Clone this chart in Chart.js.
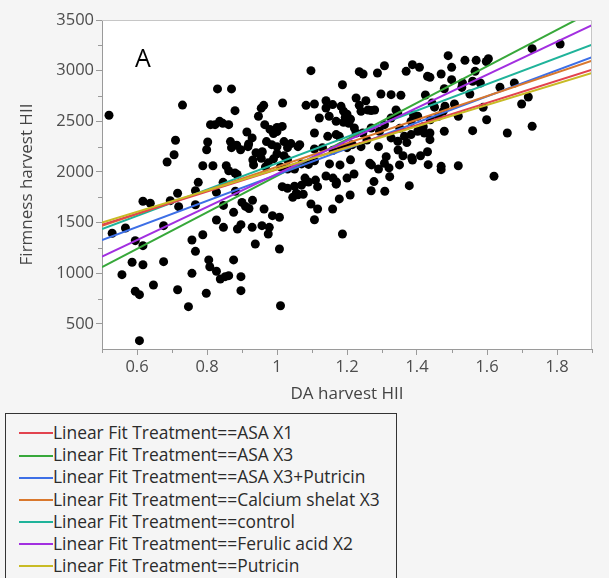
<!DOCTYPE html>
<html>
<head>
<meta charset="utf-8">
<script src="https://cdn.jsdelivr.net/npm/chart.js@4.4.0/dist/chart.umd.min.js"></script>
<style>
  body { margin: 0; background: #f5f5f5; width: 609px; height: 578px; overflow: hidden; position: relative; font-family: "Open Sans", "Noto Sans", sans-serif; }
  #wrap { position: absolute; left: 0; top: 0; width: 609px; height: 410px; }
  #panel { position: absolute; left: 135px; top: 40px; font-size: 25px; color: #000; }
  #legend { position: absolute; left: 5px; top: 413px; width: 392px; height: 180px; border: 1px solid #333; box-sizing: border-box; padding-top: 7px; }
  .row { height: 22.2px; line-height: 22.2px; font-size: 17.4px; color: #2b2b2b; white-space: nowrap; }
  .sw { display: inline-block; width: 34px; height: 2px; margin-left: 13px; vertical-align: middle; position: relative; top: -1px; }
</style>
</head>
<body>
<div id="wrap"><canvas id="chart" width="609" height="410"></canvas></div>
<div id="panel">A</div>
<div id="legend"></div>
<script>
// DA harvest HII (x) and Firmness harvest HII (y)
const daHarvest = [
  0.52,0.73,0.83,0.87,0.88,0.81,0.836,0.862,0.823,0.845,0.71,0.706,0.686,0.802,0.799,0.867,0.87,0.885,0.914,0.919,
  0.929,0.947,0.962,0.965,0.788,0.817,0.855,0.862,0.88,0.886,0.931,0.933,0.955,0.967,0.775,0.846,0.896,0.917,0.955,0.958,
  0.94,0.97,
  0.529,0.567,0.557,0.617,0.638,0.595,0.617,0.586,0.617,0.595,0.607,0.607,0.647,0.676,0.676,0.695,0.716,0.719,0.716,0.747,
  0.757,0.767,0.757,0.767,0.767,0.788,0.798,0.805,0.808,0.827,0.827,0.838,0.852,0.862,0.827,0.847,0.847,0.876,0.876,0.881,
  0.887,0.897,0.897,0.897,0.9,0.91,0.92,0.93,0.938,0.957,0.929,0.963,
  1.01,1.007,0.975,0.978,0.987,1.007,1.015,1.03,1.05,1.07,1.055,1.045,1.06,1.075,1.097,1.116,1.107,1.116,1.159,1.178,
  1.187,1.209,1.269,1.308,1.378,1.169,
  1.729,1.809,1.489,1.499,1.537,1.569,1.604,1.598,1.469,1.437,1.566,1.499,1.53,1.559,1.581,1.478,1.528,1.551,1.637,1.678,
  1.718,1.699,1.443,1.475,1.45,1.48,1.507,1.518,1.589,1.599,1.438,1.461,1.437,1.437,1.478,1.559,1.658,1.729,1.432,1.469,
  1.469,1.518,1.62,
  1.097,1.235,1.246,1.187,1.287,1.307,1.369,1.387,1.407,1.43,1.297,1.326,1.354,1.016,1.083,1.107,1.14,1.159,1.183,1.226,
  1.254,1.235,1.24,1.269,1.14,1.19,1.2,1.195,1.21,1.19,1.205,1.121,1.149,1.169,1.107,1.145,1.169,1.178,1.221,1.226,
  1.245,1.269,1.293,1.307,1.326,1.345,1.364,1.383,1.402,1.421,1.383,1.402,1.326,1.345,
  0.98,0.99,1.0,1.02,0.985,1.0,1.03,1.04,1.06,1.065,1.0,1.02,0.99,1.03,0.975,1.01,1.03,1.05,1.0,1.015,
  1.107,1.13,1.16,1.183,1.2,1.215,1.24,1.07,1.09,1.107,1.15,1.18,1.21,1.27,1.29,1.32,1.35,1.36,1.385,1.41,
  1.43,1.14,1.16,1.17,1.2,1.22,1.08,1.09,1.11,
  1.257,1.29,1.312,1.322,1.371,1.387,1.265,1.277,1.307,1.346,1.351,1.418,1.39,1.424,1.34,1.279,1.26
];
const firmness = [
  2560,2660,2820,2820,2605,2467,2500,2467,2467,2480,2313,2170,2099,2296,2220,2300,2240,2265,2395,2276,
  2336,2550,2658,2467,2062,2062,2062,2012,1990,1975,2118,2070,2135,2050,1898,1898,2220,2250,2630,2200,
  2190,2300,
  1395,1447,987,1711,1691,1322,1273,1109,1085,823,789,335,885,1115,1470,1717,1790,1658,838,671,
  1000,1217,1329,1677,1815,1381,803,1132,1065,1526,1020,944,967,977,1800,1454,1670,1602,1132,1810,
  1437,1480,967,829,1700,1660,1640,1720,1289,1470,1454,1635,
  680,1240,1388,1454,1569,1553,1855,1840,1860,1870,1790,1750,1775,1780,1684,1635,1529,1855,1635,1734,
  1388,1773,1815,1810,1865,1880,
  3217,3263,3148,3033,3102,3102,3118,3090,2967,2934,2993,2911,2878,2895,2878,2822,2835,2770,2836,2878,
  2740,2671,2680,2600,2640,2650,2671,2550,2638,2516,2516,2550,2385,2319,2402,2408,2385,2451,2072,2056,
  2023,2062,1958,
  3000,2990,2967,2861,2977,3049,2993,3059,3033,2944,2770,2763,2757,2681,2658,2671,2703,2665,2648,2730,
  2703,2658,2599,2606,2632,2600,2570,2540,2520,2490,2480,2533,2550,2500,2385,2352,2369,2352,2434,2385,
  2385,2434,2402,2467,2533,2582,2352,2369,2402,2385,2500,2550,2336,2303,
  2420,2380,2400,2300,2270,2250,2240,2280,2250,2270,2180,2160,2130,2120,2090,2050,2030,2030,2440,2450,
  2227,2240,2215,2250,2240,2270,2250,2080,2075,2110,2080,2070,2120,2070,2030,2040,2070,2160,2140,2160,
  2200,1960,1940,1900,1940,1980,1940,1900,1920,
  2316,2250,2151,1954,2290,2118,2086,1905,2086,2217,2431,2447,2563,2760,2612,2612,2612
];

// linear fits: value of the fit at the left (x = 0.5) and right (x = 1.9) edge
const fitNames = ["ASA X1", "ASA X3", "ASA X3+Putricin", "Calcium shelat X3", "control", "Ferulic acid X2", "Putricin"];
const fitColors = ["#e2434f", "#37a83a", "#3d6fe6", "#d9782d", "#1fb39a", "#a22fe0", "#c8bb25"];
const fitX = [0.5, 1.9];
const fitStart = [1480, 1060, 1329, 1470, 1437, 1164, 1500];
const fitEnd = [3010, 3583, 3132, 3098, 3256, 3448, 2977];
const fitOrder = [2, 6, 4, 3, 5, 1, 0];

const xTicks = [0.6, 0.8, 1, 1.2, 1.4, 1.6, 1.8];
const yTicks = [500, 1000, 1500, 2000, 2500, 3000, 3500];
const xMinor = [0.5, 0.7, 0.9, 1.1, 1.3, 1.5, 1.7, 1.9];
const yMinor = [750, 1250, 1750, 2250, 2750, 3250];

const frame = {
  id: "frame",
  beforeDraw(chart) {
    const { ctx, chartArea: a } = chart;
    ctx.save();
    ctx.fillStyle = "#fff";
    ctx.fillRect(a.left, a.top, a.right - a.left, a.bottom - a.top);
    ctx.restore();
  },
  afterDraw(chart) {
    const { ctx, chartArea: a, scales: { x, y } } = chart;
    ctx.save();
    ctx.lineWidth = 1;
    ctx.strokeStyle = "#c6c6c6";
    ctx.beginPath();
    ctx.moveTo(a.left, a.top + 0.5);
    ctx.lineTo(a.right - 0.5, a.top + 0.5);
    ctx.lineTo(a.right - 0.5, a.bottom);
    ctx.stroke();
    ctx.strokeStyle = "#9a9a9a";
    ctx.beginPath();
    xMinor.forEach(v => {
      const px = Math.round(x.getPixelForValue(v)) + 0.5;
      ctx.moveTo(px, a.bottom);
      ctx.lineTo(px, a.bottom + 4);
    });
    yMinor.forEach(v => {
      const py = Math.round(y.getPixelForValue(v)) + 0.5;
      ctx.moveTo(a.left - 4, py);
      ctx.lineTo(a.left, py);
    });
    ctx.stroke();
    ctx.restore();
  }
};

const points = daHarvest.map((v, i) => ({ x: v, y: firmness[i] }));

const fitSets = fitNames.map((name, i) => ({
  label: "Linear Fit Treatment==" + name,
  data: fitX.map((v, k) => ({ x: v, y: k === 0 ? fitStart[i] : fitEnd[i] })),
  showLine: true,
  borderColor: fitColors[i],
  backgroundColor: fitColors[i],
  borderWidth: 2,
  pointRadius: 0,
  order: fitOrder[i]
}));

const tickFont = { family: "'Open Sans', sans-serif", size: 16.5 };
const titleFont = { family: "'Open Sans', sans-serif", size: 17 };

new Chart(document.getElementById("chart"), {
  type: "scatter",
  data: {
    datasets: [
      ...fitSets,
      {
        label: "points",
        data: points,
        backgroundColor: "#000",
        borderWidth: 0,
        pointRadius: 4.5,
        order: 10
      }
    ]
  },
  options: {
    responsive: false,
    devicePixelRatio: 1,
    animation: false,
    layout: { padding: { top: 20, right: 17, left: 0, bottom: 0 } },
    plugins: { legend: { display: false }, tooltip: { enabled: false } },
    scales: {
      x: {
        type: "linear",
        min: 0.5,
        max: 1.9,
        afterBuildTicks: s => { s.ticks = xTicks.map(v => ({ value: v })); },
        afterFit: s => { s.height = 61; },
        grid: { drawOnChartArea: false, tickLength: 6, tickColor: "#9a9a9a" },
        border: { color: "#9a9a9a" },
        ticks: { color: "#4d4d4d", font: tickFont, padding: 2, maxRotation: 0, callback: v => String(Math.round(v * 10) / 10) },
        title: { display: true, text: "DA harvest HII", color: "#444", font: titleFont, padding: { bottom: 6 } }
      },
      y: {
        type: "linear",
        min: 253,
        max: 3500,
        afterBuildTicks: s => { s.ticks = yTicks.map(v => ({ value: v })); },
        afterFit: s => { s.width = 102; },
        grid: { drawOnChartArea: false, tickLength: 6, tickColor: "#9a9a9a" },
        border: { color: "#9a9a9a" },
        ticks: { color: "#4d4d4d", font: tickFont, padding: 2, callback: v => String(v) },
        title: { display: true, text: "Firmness harvest HII", color: "#444", font: titleFont, padding: { top: 17 } }
      }
    }
  },
  plugins: [frame]
});

const legend = document.getElementById("legend");
fitNames.forEach((name, i) => {
  const row = document.createElement("div");
  row.className = "row";
  const sw = document.createElement("span");
  sw.className = "sw";
  sw.style.background = fitColors[i];
  row.appendChild(sw);
  row.appendChild(document.createTextNode("Linear Fit Treatment==" + name));
  legend.appendChild(row);
});
</script>
</body>
</html>
